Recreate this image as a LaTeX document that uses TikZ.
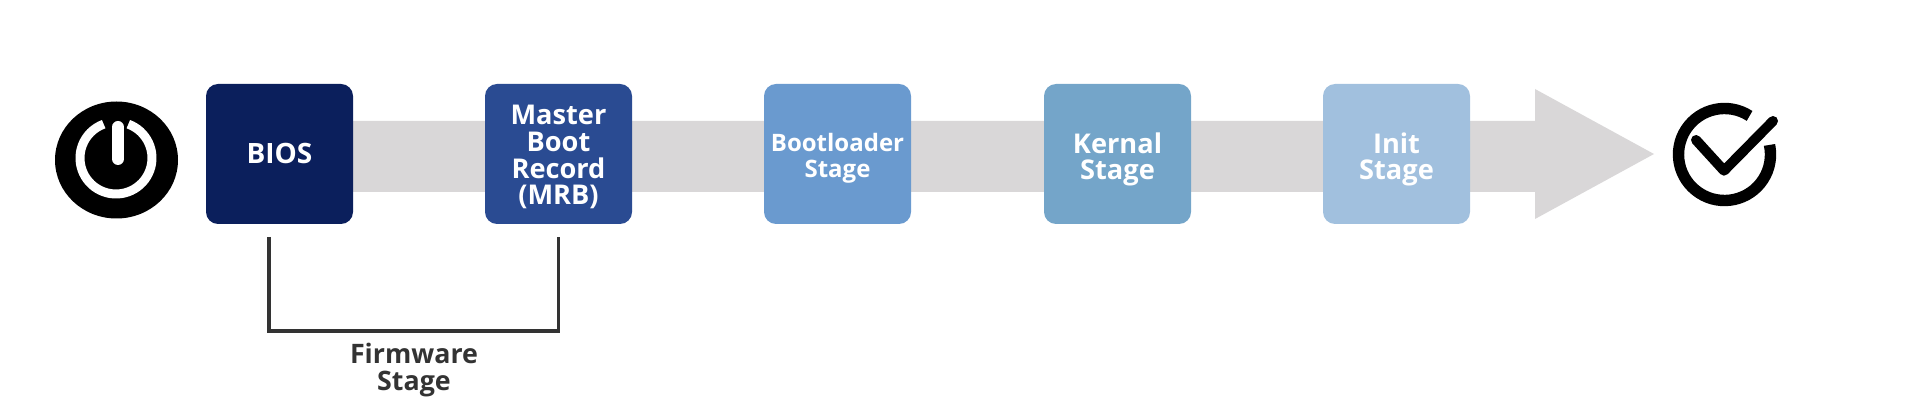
\documentclass[tikz,border=0pt]{standalone}
\usepackage{fontspec}
\setmainfont{Open Sans}
\usetikzlibrary{shapes.geometric}

\definecolor{biosblue}{HTML}{0B1F5C}
\definecolor{mbrblue}{HTML}{2A4B92}
\definecolor{bootblue}{HTML}{6A9ACF}
\definecolor{kernalblue}{HTML}{74A5C9}
\definecolor{initblue}{HTML}{A1C0DE}
\definecolor{arrowgrey}{HTML}{D9D7D8}
\definecolor{linegrey}{HTML}{333333}

\tikzset{
	stagebox/.style = {rounded corners=6pt, minimum width=73.5pt, minimum height=70pt, inner sep=0pt, align=center, text=white, text depth=0pt, font=\bfseries\fontsize{13.6}{13.4}\selectfont},
	bracketline/.style = {draw=linegrey, line width=1.6pt},
	stagetext/.style = {align=center, text=linegrey, inner sep=0pt, font=\bfseries\fontsize{13.4}{13.4}\selectfont}
}

\begin{document}
\begin{tikzpicture}[x=0.5pt, y=-0.5pt]
	\useasboundingbox (0,0) rectangle (1932,416);
	
	%Pfeil
	\fill[arrowgrey] (353,121) -- (1535,121) -- (1535,89) -- (1654,154) -- (1535,219) -- (1535,192) -- (353,192) -- cycle;
	
	%Stufen
	\node[stagebox, fill=biosblue, text height=10pt, font=\bfseries\fontsize{14}{14}\selectfont] (bios) at (279.5,154) {BIOS};
	\node[stagebox, fill=mbrblue, text height=51pt] (mbr) at (558.5,154) {Master\\Boot\\Record\\(MRB)};
	\node[stagebox, fill=bootblue, text height=23.3pt, font=\bfseries\fontsize{12}{13}\selectfont] (boot) at (837.5,154) {Bootloader\\Stage};
	\node[stagebox, fill=kernalblue, text height=26pt] (kernal) at (1117.5,154) {Kernal\\Stage};
	\node[stagebox, fill=initblue, text height=26pt] (init) at (1396.5,154) {Init\\Stage};
	
	%Klammer
	\coordinate (fwleft) at (269,237);
	\coordinate (fwright) at (558.5,237);
	\coordinate (fwbar) at (414,331);
	\draw[bracketline] (fwleft) |- (fwbar) -| (fwright);
	\node[stagetext] (firmware) at (414,370) {Firmware\\Stage};
	
	%Einschalten
	\node[ellipse, fill=black, minimum width=61.5pt, minimum height=58.5pt, inner sep=0pt] (power) at (116.5,160) {};
	\draw[white, line width=4.5pt] (116,158) ++(-70:36) arc[start angle=-70, end angle=250, radius=36];
	\draw[white, line width=6pt, line cap=round] (118,127) -- (118,159);
	
	%Haken
	\draw[black, line width=5.7pt] (1724.5,154.5) ++(-57:46) arc[start angle=-57, end angle=-372, radius=46];
	\draw[black, line width=5pt, line cap=round, line join=round] (1696,140) -- (1724,170.7) -- (1773,121);
\end{tikzpicture}
\end{document}
